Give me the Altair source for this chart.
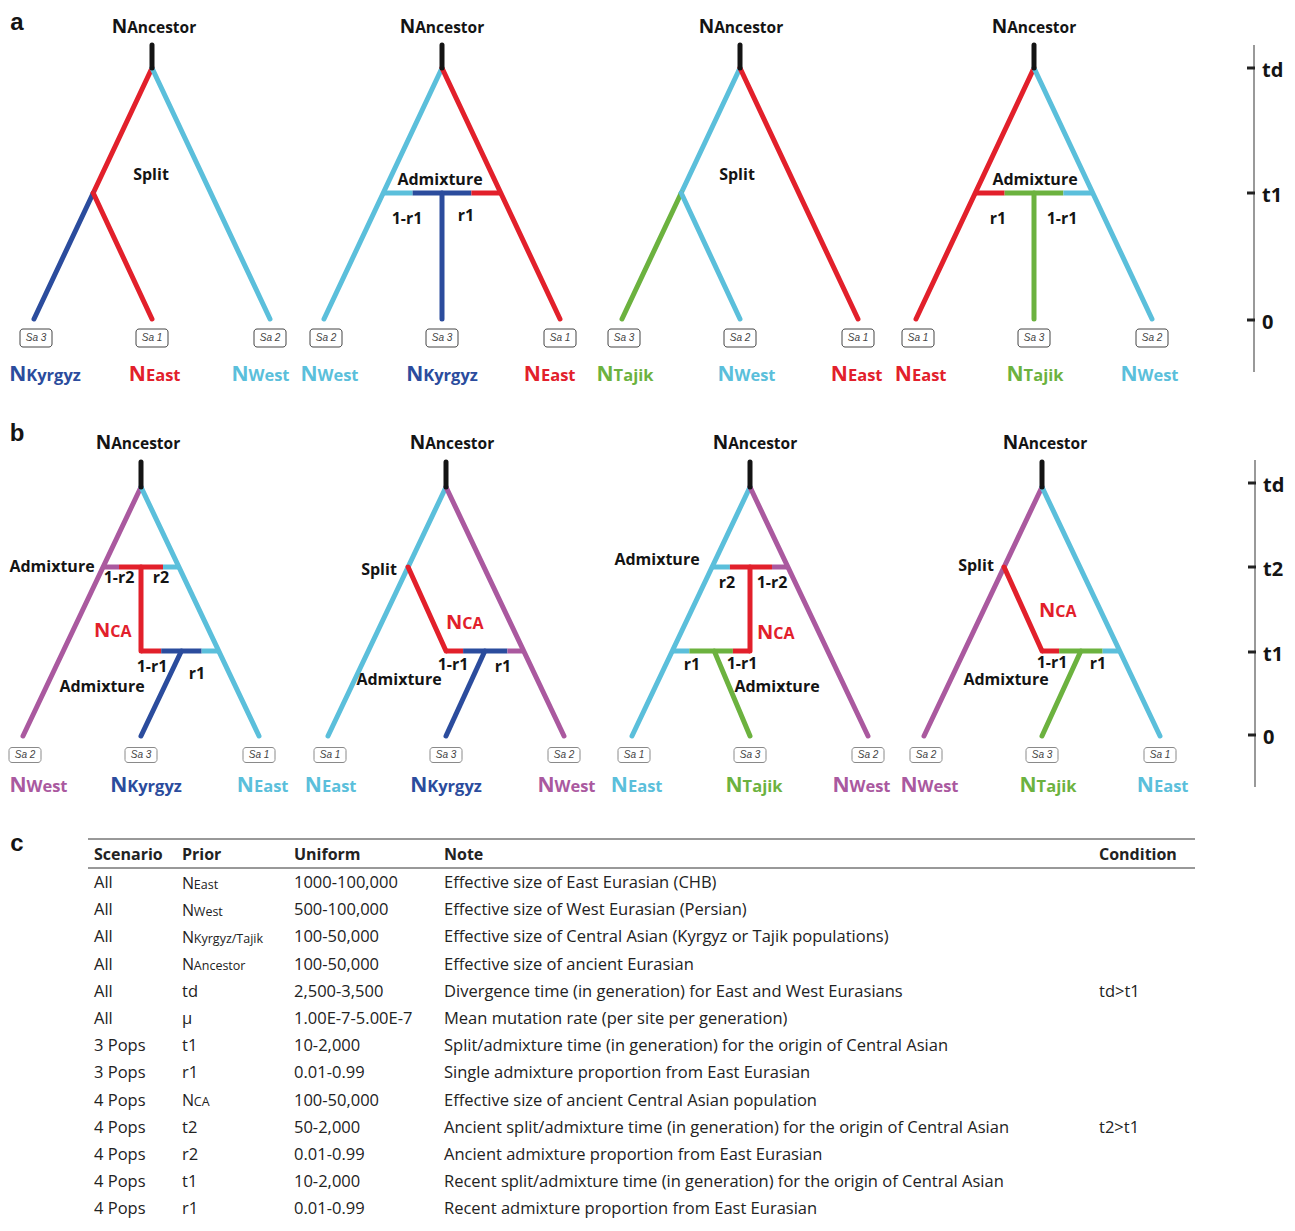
import altair as alt
import pandas as pd

# ---------------- colours ----------------
RED = "#e2202b"; CYAN = "#5bbfdb"; BLUE = "#2b4c9d"; GREEN = "#6cb23f"; MAG = "#aa599f"; BLACK = "#141414"

# ---------------- layout (reference pixel space) ----------------
HALF = 118
A_CENTERS = [152, 442, 740, 1034]
A_LEVELS = {"top": 45, "td": 68, "t1": 193, "0": 319}
B_CENTERS = [141, 446, 750, 1042]
B_LEVELS = {"top": 462, "td": 487, "t2": 567, "t1": 651, "0": 736}

# ---------------- tree topology: (r0, level0, r1, level1, colour, kind) ----------------
# r is a fraction of the tree's width at that level (-1 = left branch, +1 = right branch)
A_TREES = [
    [(0, "td", -1, "t1", RED, "br"), (-1, "t1", -1, "0", BLUE, "br"), (-1, "t1", 0, "0", RED, "br"),
     (0, "td", 1, "0", CYAN, "br")],
    [(-1, "t1", -0.5, "t1", CYAN, "bar"), (-0.5, "t1", 0.5, "t1", BLUE, "bar"), (0.5, "t1", 1, "t1", RED, "bar"),
     (0, "td", -1, "0", CYAN, "br"), (0, "td", 1, "0", RED, "br"), (0, "t1", 0, "0", BLUE, "br")],
    [(0, "td", -1, "t1", CYAN, "br"), (-1, "t1", -1, "0", GREEN, "br"), (-1, "t1", 0, "0", CYAN, "br"),
     (0, "td", 1, "0", RED, "br")],
    [(-1, "t1", -0.5, "t1", RED, "bar"), (-0.5, "t1", 0.5, "t1", GREEN, "bar"), (0.5, "t1", 1, "t1", CYAN, "bar"),
     (0, "td", -1, "0", RED, "br"), (0, "td", 1, "0", CYAN, "br"), (0, "t1", 0, "0", GREEN, "br")],
]
B_TREES = [
    [(-1, "t2", -0.58, "t2", MAG, "bar"), (-0.58, "t2", 0.58, "t2", RED, "bar"), (0.58, "t2", 1, "t2", CYAN, "bar"),
     (0, "t1", 0.26, "t1", RED, "bar"), (0.26, "t1", 0.78, "t1", BLUE, "bar"), (0.78, "t1", 1, "t1", CYAN, "bar"),
     (0, "td", -1, "0", MAG, "br"), (0, "td", 1, "0", CYAN, "br"), (0, "t2", 0, "t1", RED, "br"),
     (0.52, "t1", 0, "0", BLUE, "br")],
    [(0, "t1", 0.22, "t1", RED, "bar"), (0.22, "t1", 0.79, "t1", BLUE, "bar"), (0.79, "t1", 1, "t1", MAG, "bar"),
     (0, "td", -1, "0", CYAN, "br"), (0, "td", 1, "0", MAG, "br"), (-1, "t2", 0, "t1", RED, "br"),
     (0.5, "t1", 0, "0", BLUE, "br")],
    [(-1, "t2", -0.53, "t2", CYAN, "bar"), (-0.53, "t2", 0.58, "t2", RED, "bar"), (0.58, "t2", 1, "t2", MAG, "bar"),
     (-1, "t1", -0.78, "t1", CYAN, "bar"), (-0.78, "t1", -0.22, "t1", GREEN, "bar"), (-0.22, "t1", 0, "t1", RED, "bar"),
     (0, "td", -1, "0", CYAN, "br"), (0, "td", 1, "0", MAG, "br"), (0, "t2", 0, "t1", RED, "br"),
     (-0.46, "t1", 0, "0", GREEN, "br")],
    [(0, "t1", 0.22, "t1", RED, "bar"), (0.22, "t1", 0.78, "t1", GREEN, "bar"), (0.78, "t1", 1, "t1", CYAN, "bar"),
     (0, "td", -1, "0", MAG, "br"), (0, "td", 1, "0", CYAN, "br"), (-1, "t2", 0, "t1", RED, "br"),
     (0.5, "t1", 0, "0", GREEN, "br")],
]

# leaves: sample ids and population names
A_SAMPLES = [[3, 1, 2], [2, 3, 1], [3, 2, 1], [1, 3, 2]]
B_SAMPLES = [[2, 3, 1], [1, 3, 2], [1, 3, 2], [2, 3, 1]]
A_POPS = [["Kyrgyz", "East", "West"], ["West", "Kyrgyz", "East"], ["Tajik", "West", "East"], ["East", "Tajik", "West"]]
B_POPS = [["West", "Kyrgyz", "East"], ["East", "Kyrgyz", "West"], ["East", "Tajik", "West"], ["West", "Tajik", "East"]]
A_POP_COL = {"Kyrgyz": BLUE, "East": RED, "West": CYAN, "Tajik": GREEN}
B_POP_COL = {"Kyrgyz": BLUE, "East": CYAN, "West": MAG, "Tajik": GREEN}
A_LEAF_LABEL_X = [[45, 155, 261], [330, 442, 550], [625, 747, 857], [921, 1035, 1150]]
B_LEAF_LABEL_X = [[39, 146, 263], [331, 446, 567], [637, 754, 862], [930, 1048, 1163]]
A_HEADER_X = [154, 442, 741, 1034]
B_HEADER_X = [138, 452, 755, 1045]

# in-tree annotations (text, x, y)
A_NOTES = [("Split", 151, 175), ("Admixture", 440, 180), ("1-r1", 407, 219), ("r1", 466, 216),
           ("Split", 737, 175), ("Admixture", 1035, 180), ("r1", 998, 219), ("1-r1", 1062, 219)]
B_NOTES = [("Admixture", 52, 567), ("1-r2", 119, 578), ("r2", 161, 578), ("1-r1", 152, 667), ("r1", 197, 674),
           ("Admixture", 102, 687),
           ("Split", 379, 570), ("1-r1", 453, 665), ("r1", 503, 667), ("Admixture", 399, 680),
           ("Admixture", 657, 560), ("r2", 727, 583), ("1-r2", 772, 583), ("r1", 692, 665), ("1-r1", 742, 664),
           ("Admixture", 777, 687),
           ("Split", 976, 566), ("1-r1", 1052, 663), ("r1", 1098, 664), ("Admixture", 1006, 680)]
B_NCA = [(113, 630), (465, 622), (776, 632), (1058, 610)]

# time axes
A_TICKS = ["td", "t1", "0"]
B_TICKS = ["td", "t2", "t1", "0"]
A_TICK_Y = [68, 193, 320]
B_TICK_Y = [483, 567, 652, 735]

# ---------------- table (panel c) ----------------
T_HEAD = ["Scenario", "Prior", "Uniform", "Note", "Condition"]
T_SCEN = ["All", "All", "All", "All", "All", "All", "3 Pops", "3 Pops", "4 Pops", "4 Pops", "4 Pops", "4 Pops", "4 Pops"]
T_PRIOR_MAIN = ["N", "N", "N", "N", "td", "μ", "t1", "r1", "N", "t2", "r2", "t1", "r1"]
T_PRIOR_SUB = ["East", "West", "Kyrgyz/Tajik", "Ancestor", "", "", "", "", "CA", "", "", "", ""]
T_UNIF = ["1000-100,000", "500-100,000", "100-50,000", "100-50,000", "2,500-3,500", "1.00E-7-5.00E-7",
          "10-2,000", "0.01-0.99", "100-50,000", "50-2,000", "0.01-0.99", "10-2,000", "0.01-0.99"]
T_NOTE = ["Effective size of East Eurasian (CHB)",
          "Effective size of West Eurasian (Persian)",
          "Effective size of Central Asian (Kyrgyz or Tajik populations)",
          "Effective size of ancient Eurasian",
          "Divergence time (in generation) for East and West Eurasians",
          "Mean mutation rate (per site per generation)",
          "Split/admixture time (in generation) for the origin of Central Asian",
          "Single admixture proportion from East Eurasian",
          "Effective size of ancient Central Asian population",
          "Ancient split/admixture time (in generation) for the origin of Central Asian",
          "Ancient admixture proportion from East Eurasian",
          "Recent split/admixture time (in generation) for the origin of Central Asian",
          "Recent admixture proportion from East Eurasian"]
T_COND = ["", "", "", "", "td>t1", "", "", "", "", "t2>t1", "", "", ""]
T_COL_X = [94, 182, 294, 444, 1099]
T_TOP_RULE_Y = 839
T_HEAD_Y = 855
T_HEAD_RULE_Y = 868
T_ROW0_Y = 883
T_ROW_STEP = 27.2

# ---------------- helpers ----------------
OSB = {"A": .69, "N": .77, "C": .62, "E": .56, "K": .66, "T": .57, "W": .98,
       "a": .59, "c": .51, "e": .59, "g": .55, "i": .30, "j": .30, "k": .60, "n": .64, "o": .61,
       "r": .44, "s": .50, "t": .43, "y": .56, "z": .48}


def w_osb(s, size):
    return sum(OSB.get(c, .55) for c in s) * size


segs, stubs = [], []
for centers, levels, trees in [(A_CENTERS, A_LEVELS, A_TREES), (B_CENTERS, B_LEVELS, B_TREES)]:
    span = levels["0"] - levels["td"]

    def frac(l):
        return (levels[l] - levels["td"]) / span

    for cx, tree in zip(centers, trees):
        for r0, l0, r1, l1, col, kind in tree:
            segs.append(dict(x=cx + r0 * frac(l0) * HALF, y=levels[l0],
                             x2=cx + r1 * frac(l1) * HALF, y2=levels[l1], col=col, kind=kind))
        stubs.append(dict(x=cx, y=levels["top"], x2=cx, y2=levels["td"], col=BLACK, kind="stub"))
seg_df = pd.DataFrame(segs)
stub_df = pd.DataFrame(stubs)

boxes, sa_txt, big_n, sub_txt, notes = [], [], [], [], []
for centers, levels, samples, pops, pcol, lab_x, head_x, head_base, leaf_base, bh, bstroke in [
        (A_CENTERS, A_LEVELS, A_SAMPLES, A_POPS, A_POP_COL, A_LEAF_LABEL_X, A_HEADER_X, 33, 381, 18, "#444444"),
        (B_CENTERS, B_LEVELS, B_SAMPLES, B_POPS, B_POP_COL, B_LEAF_LABEL_X, B_HEADER_X, 449, 792, 15, "#8a8a8a")]:
    box_y = levels["0"] + 19
    for cx, smp, pp, lx, hx in zip(centers, samples, pops, lab_x, head_x):
        for k, (s, p, x) in enumerate(zip(smp, pp, lx)):
            bx = cx + (k - 1) * HALF + (2 if k == 0 else 0)
            boxes.append(dict(x=bx - 16, x2=bx + 16, y=box_y - bh / 2, y2=box_y + bh / 2, col=bstroke))
            sa_txt.append(dict(x=bx, y=box_y, t=f"Sa {s}", fs=10, col="#444444"))
            nsz, ssz = 21, 16.5
            tot = w_osb("N", nsz) + w_osb(p, ssz)
            split = x - tot / 2 + w_osb("N", nsz)
            big_n.append(dict(x=split, y=leaf_base, t="N", fs=nsz, col=pcol[p]))
            sub_txt.append(dict(x=split, y=leaf_base, t=p, fs=ssz, col=pcol[p]))
        nsz, ssz = 19, 15.5
        tot = w_osb("N", nsz) + w_osb("Ancestor", ssz)
        split = hx - tot / 2 + w_osb("N", nsz)
        big_n.append(dict(x=split, y=head_base, t="N", fs=nsz, col=BLACK))
        sub_txt.append(dict(x=split, y=head_base, t="Ancestor", fs=ssz, col=BLACK))

for x, y in B_NCA:
    nsz, ssz = 20, 16
    tot = w_osb("N", nsz) + w_osb("CA", ssz)
    split = x - tot / 2 + w_osb("N", nsz)
    big_n.append(dict(x=split, y=y + 7, t="N", fs=nsz, col=RED))
    sub_txt.append(dict(x=split, y=y + 7, t="CA", fs=ssz, col=RED))

for t, x, y in A_NOTES + B_NOTES:
    notes.append(dict(x=x, y=y, t=t, fs=16, col=BLACK))

# time axes
axis_lines = pd.DataFrame([dict(x=1254, y=45, x2=1254, y2=372), dict(x=1255, y=460, x2=1255, y2=787)])
ticks, tick_lab = [], []
for names, ys, ax in [(A_TICKS, A_TICK_Y, 1254), (B_TICKS, B_TICK_Y, 1255)]:
    for n, y in zip(names, ys):
        ticks.append(dict(x=ax - 7, x2=ax + 1, y=y, y2=y))
        tick_lab.append(dict(x=ax + 8, y=y + 3, t=n, fs=20, col=BLACK))

letters = pd.DataFrame([dict(x=17, y=23, t="a", fs=24, col=BLACK), dict(x=17, y=434, t="b", fs=24, col=BLACK),
                        dict(x=17, y=844, t="c", fs=24, col=BLACK)])

# table
TXT = "#222222"
t_head = [dict(x=x, y=T_HEAD_Y, t=h, fs=16, col=TXT) for x, h in zip(T_COL_X, T_HEAD)]
t_body, t_pn, t_ps = [], [], []
for i in range(len(T_SCEN)):
    y = T_ROW0_Y + i * T_ROW_STEP
    for x, v in zip([T_COL_X[0], T_COL_X[2], T_COL_X[3], T_COL_X[4]], [T_SCEN[i], T_UNIF[i], T_NOTE[i], T_COND[i]]):
        if v:
            t_body.append(dict(x=x, y=y, t=v, fs=16.5, col=TXT))
    if T_PRIOR_SUB[i]:
        t_pn.append(dict(x=T_COL_X[1], y=y + 5.5, t=T_PRIOR_MAIN[i], fs=16, col=TXT))
        t_ps.append(dict(x=T_COL_X[1] + 0.74 * 16, y=y + 5.5, t=T_PRIOR_SUB[i], fs=12.5, col=TXT))
    else:
        t_body.append(dict(x=T_COL_X[1], y=y, t=T_PRIOR_MAIN[i], fs=16.5, col=TXT))
t_rules = pd.DataFrame([dict(x=88, x2=1195, y=T_TOP_RULE_Y, y2=T_TOP_RULE_Y),
                        dict(x=88, x2=1195, y=T_HEAD_RULE_Y, y2=T_HEAD_RULE_Y)])

# ---------------- chart ----------------
XS = alt.Scale(domain=[8, 1287], nice=False, zero=False)
YS = alt.Scale(domain=[8, 1223], nice=False, zero=False, reverse=True)
X = alt.X("x:Q", scale=XS, axis=None)
Y = alt.Y("y:Q", scale=YS, axis=None)


def rules(df, width, cap, color=None):
    enc = dict(x=X, y=Y, x2=alt.X2("x2:Q"), y2=alt.Y2("y2:Q"))
    if color is None:
        enc["color"] = alt.Color("col:N", scale=None)
        return alt.Chart(df).mark_rule(strokeWidth=width, strokeCap=cap).encode(**enc)
    return alt.Chart(df).mark_rule(strokeWidth=width, strokeCap=cap, color=color).encode(**enc)


def texts(rows, font, weight="normal", align="center", baseline="middle", style="normal"):
    df = pd.DataFrame(rows)
    return alt.Chart(df).mark_text(font=font, fontWeight=weight, align=align, baseline=baseline,
                                   fontStyle=style).encode(
        x=X, y=Y, text="t:N", size=alt.Size("fs:Q", scale=None), color=alt.Color("col:N", scale=None))


layers = [
    rules(seg_df[seg_df.kind == "bar"], 5, "butt"),
    rules(seg_df[seg_df.kind == "br"], 5, "round"),
    rules(stub_df, 5, "round"),
    rules(axis_lines, 1.5, "butt", color="#777777"),
    rules(pd.DataFrame(ticks), 3, "butt", color="#222222"),
    alt.Chart(pd.DataFrame(boxes)).mark_rect(cornerRadius=3, fill="white", strokeWidth=1).encode(
        x=X, x2=alt.X2("x2:Q"), y=Y, y2=alt.Y2("y2:Q"), stroke=alt.Stroke("col:N", scale=None)),
    texts(sa_txt, "Liberation Sans", style="italic"),
    texts(notes, "Open Sans", weight="bold"),
    texts(big_n, "Open Sans", weight="bold", align="right", baseline="alphabetic"),
    texts(sub_txt, "Open Sans", weight="bold", align="left", baseline="alphabetic"),
    texts(tick_lab, "Open Sans", weight="bold", align="left"),
    texts(letters.to_dict("records"), "Liberation Sans", weight="bold"),
    rules(t_rules, 1, "butt", color="#333333"),
    texts(t_head, "Open Sans", weight="bold", align="left"),
    texts(t_body, "Open Sans", align="left"),
    texts(t_pn, "Open Sans", align="left", baseline="alphabetic"),
    texts(t_ps, "Open Sans", align="left", baseline="alphabetic"),
]

chart = alt.layer(*layers).properties(
    width=1279, height=1215, padding=0, autosize=alt.AutoSizeParams(type="none"),
    background="white").configure_view(stroke=None)

chart.save("out.html", embed_options={"renderer": "svg", "actions": False})
